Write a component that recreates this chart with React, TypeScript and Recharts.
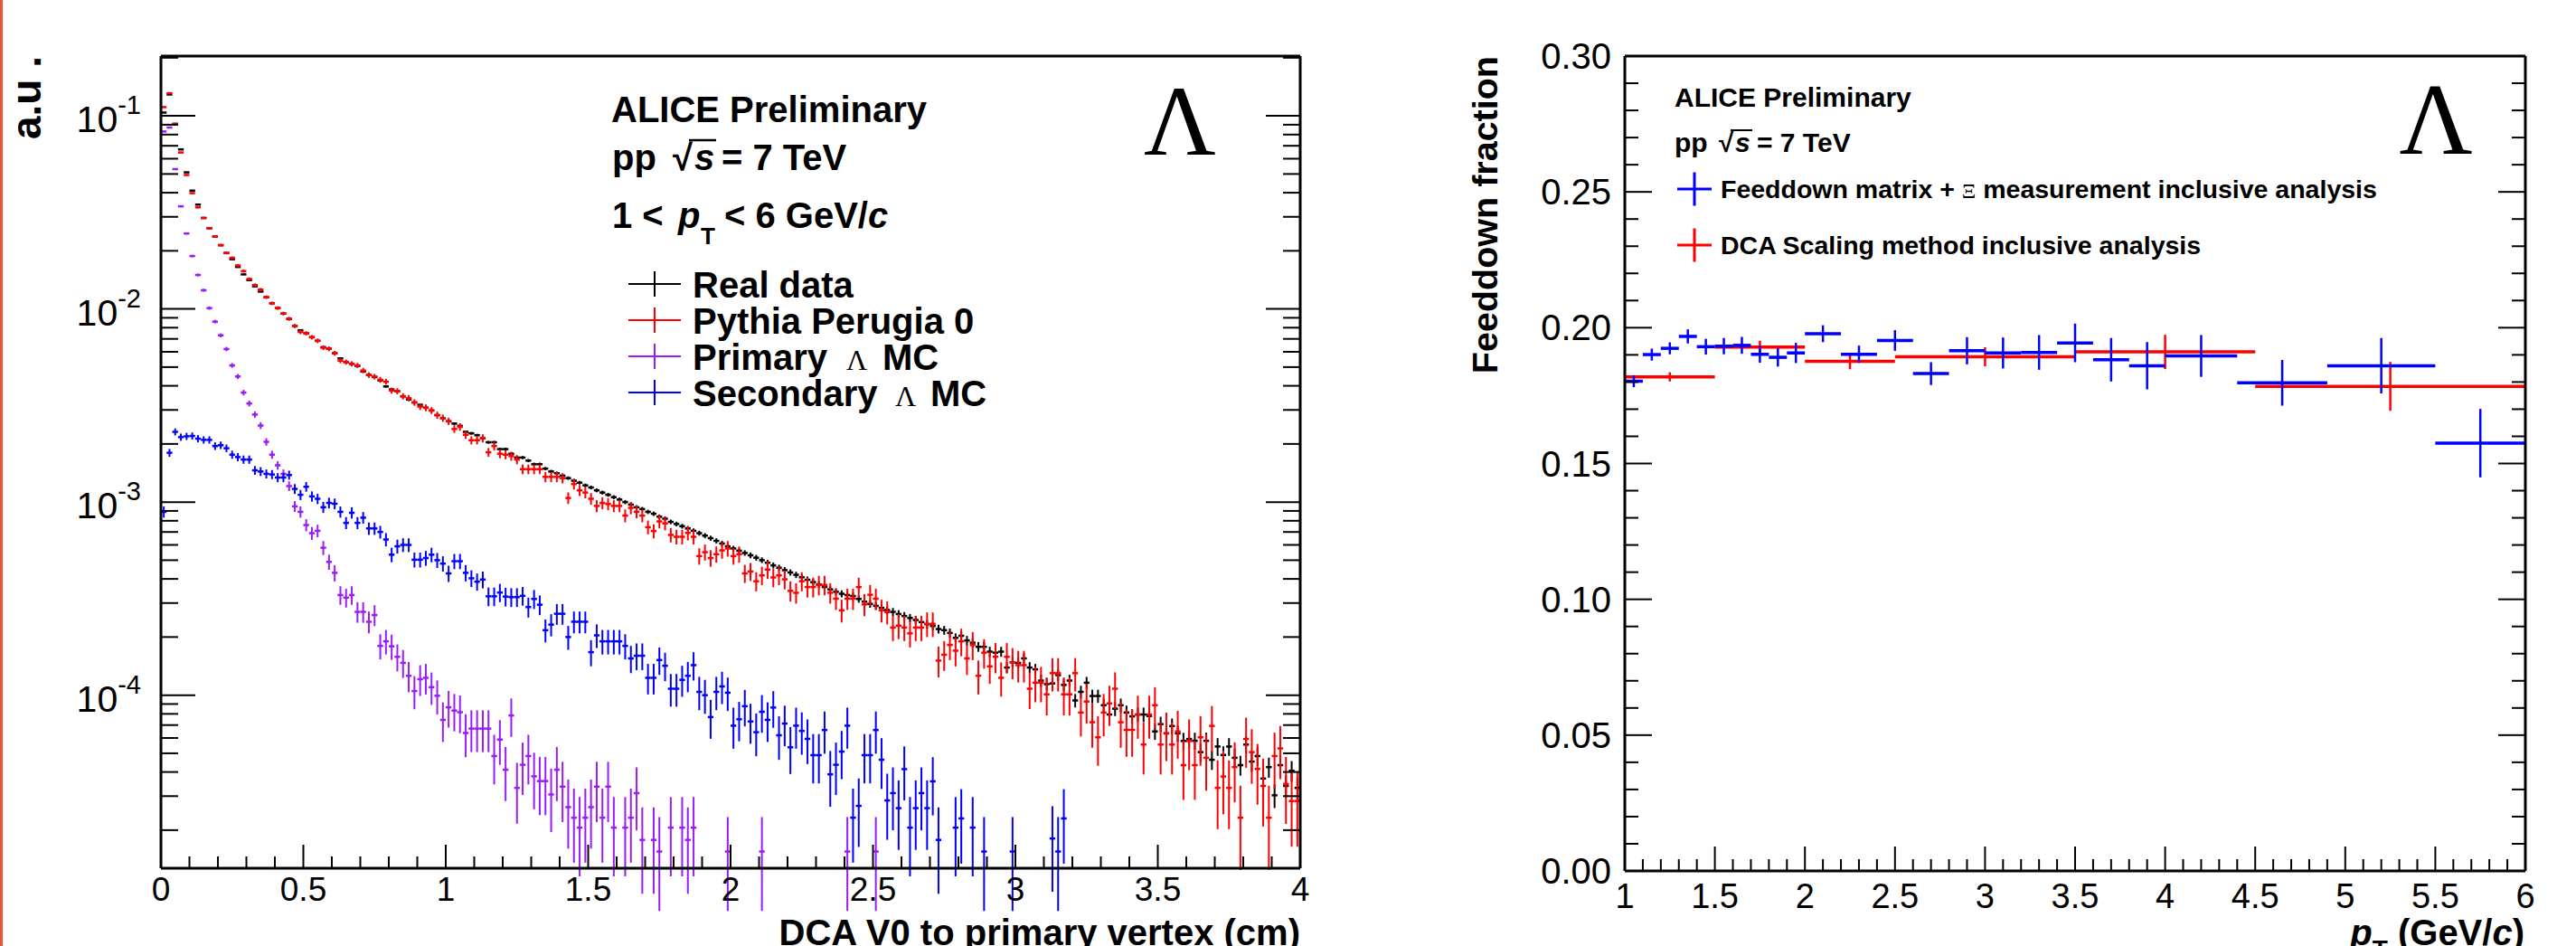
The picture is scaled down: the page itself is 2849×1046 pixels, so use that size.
import React from 'react';
import { ScatterChart, Scatter, XAxis, YAxis, ErrorBar } from 'recharts';

// ---- left panel: DCA distributions, 0.02 cm bins starting at 0 ----
const dcaFirstBinCenter = 0.01;
const dcaBinWidth = 0.02;

const realData = [
  0.104, 0.129, 0.091, 0.067, 0.051, 0.041, 0.0347, 0.0296, 0.0262, 0.0237,
  0.0214, 0.0195, 0.0181, 0.0165, 0.0151, 0.0141, 0.0131, 0.0123, 0.0115, 0.0107,
  0.0101, 0.00946, 0.00887, 0.00816, 0.00776, 0.00748, 0.00714, 0.00684, 0.00634, 0.00622,
  0.0059, 0.00555, 0.00531, 0.0052, 0.00507, 0.00475, 0.00455, 0.00444, 0.00427, 0.00397,
  0.00383, 0.00375, 0.00353, 0.0034, 0.00328, 0.00319, 0.00308, 0.00298, 0.00282, 0.00272,
  0.00262, 0.00255, 0.00248, 0.00231, 0.00227, 0.00222, 0.00214, 0.00204, 0.00204, 0.00188,
  0.00188, 0.00178, 0.0017, 0.0017, 0.00164, 0.00157, 0.00157, 0.00149, 0.00144, 0.00141,
  0.00137, 0.00133, 0.00129, 0.00126, 0.00122, 0.00119, 0.00115, 0.00112, 0.00109, 0.00106,
  0.00103, 0.001, 0.00097, 0.00094, 0.00092, 0.00089, 0.00087, 0.00084, 0.00082, 0.00079,
  0.00077, 0.00075, 0.00073, 0.00071, 0.00069, 0.00067, 0.00065, 0.00063, 0.00061, 0.00059,
  0.000575, 0.00056, 0.000545, 0.00053, 0.000515, 0.0005, 0.000485, 0.00047, 0.000457, 0.000444,
  0.000432, 0.00042, 0.000408, 0.000396, 0.000385, 0.000374, 0.000363, 0.000353, 0.000343, 0.000335,
  0.00033, 0.000326, 0.000315, 0.000305, 0.000297, 0.00029, 0.000283, 0.000276, 0.00027, 0.000263,
  0.000257, 0.000251, 0.000245, 0.000239, 0.000233, 0.000228, 0.00022, 0.000217, 0.00021, 0.000198,
  0.000203, 0.000192, 0.000187, 0.000178, 0.000178, 0.000168, 0.000166, 0.000168, 0.000139, 0.000148,
  0.000147, 0.000155, 0.000139, 0.000136, 0.000119, 0.000114, 0.000115, 0.000127, 0.000113, 0.000119,
  9.39e-5, 1.04e-4, 1.16e-4, 9.9e-5, 9.9e-5, 8.87e-5, 7.94e-5, 8.51e-5, 8.87e-5, 8.13e-5,
  7.77e-5, 7.94e-5, 7.94e-5, 7.8e-5, 6.49e-5, 7.08e-5, 6.34e-5, 6.92e-5, 6.34e-5, 5.79e-5,
  5.93e-5, 5.8e-5, 5.07e-5, 5.8e-5, 4.63e-5, 5.42e-5, 4.9e-5, 5.42e-5, 4.74e-5, 4.34e-5,
  5.55e-5, 4.53e-5, 4.84e-5, 3.7e-5, 4.24e-5, 3.03e-5, 4.34e-5, 3.39e-5, 4.06e-5, 3.31e-5,
];

const pythiaPerugia0 = [
  0.111, 0.131, 0.0907, 0.0646, 0.0494, 0.0398, 0.0336, 0.0296, 0.0262, 0.0237,
  0.0214, 0.0195, 0.0184, 0.0168, 0.0157, 0.0143, 0.0133, 0.0126, 0.0115, 0.0107,
  0.0101, 0.00946, 0.0089, 0.00816, 0.0076, 0.00748, 0.00714, 0.00684, 0.0063, 0.00622,
  0.0059, 0.0054, 0.00531, 0.0052, 0.0051, 0.0048, 0.00455, 0.00446, 0.0043, 0.0042,
  0.00378, 0.00375, 0.00353, 0.00345, 0.00328, 0.00312, 0.00308, 0.00298, 0.00282, 0.00272,
  0.00262, 0.00239, 0.00245, 0.00223, 0.00209, 0.00209, 0.00214, 0.00181, 0.00195, 0.00178,
  0.00176, 0.00173, 0.00166, 0.00148, 0.00148, 0.00148, 0.00148, 0.00135, 0.00135, 0.00135,
  0.00133, 0.00105, 0.00124, 0.00115, 0.00112, 0.00104, 0.000955, 0.000989, 0.000977, 0.000955,
  0.000955, 0.000851, 0.000933, 0.000891, 0.000851, 0.000741, 0.000708, 0.000794, 0.000776, 0.000676,
  0.000661, 0.000661, 0.000692, 0.000661, 0.000525, 0.00055, 0.000513, 0.000537, 0.000562, 0.000575,
  0.000525, 0.000537, 0.000427, 0.000437, 0.000389, 0.000417, 0.000447, 0.000407, 0.000417, 0.000398,
  0.000347, 0.000339, 0.000389, 0.000363, 0.000363, 0.000372, 0.000372, 0.000339, 0.000316, 0.000275,
  0.000316, 0.000316, 0.000363, 0.000295, 0.000331, 0.000316, 0.000275, 0.000269, 0.000224, 0.000229,
  0.000224, 0.000209, 0.000224, 0.000224, 0.000234, 0.000234, 0.000151, 0.000162, 0.000182, 0.00017,
  0.00019, 0.000155, 0.000182, 0.000126, 0.000166, 0.000141, 0.000158, 0.000123, 0.000158, 0.000148,
  0.000143, 0.000143, 0.000108, 0.000116, 0.000116, 0.000101, 0.00013, 0.00013, 0.000101, 0.000101,
  1.3e-4, 8.13e-5, 9.27e-5, 7.24e-5, 6.05e-5, 8.13e-5, 9.06e-5, 1.08e-4, 7.24e-5, 6.61e-5,
  6.61e-5, 7.94e-5, 5.55e-5, 7.94e-5, 8.87e-5, 5.55e-5, 6.34e-5, 5.55e-5, 6.49e-5, 4.34e-5,
  5.79e-5, 4.34e-5, 6.05e-5, 4.74e-5, 6.93e-5, 3.31e-5, 3.79e-5, 3.31e-5, 4.24e-5, 2.32e-5,
  5.93e-5, 5.07e-5, 4.15e-5, 3.39e-5, 2.32e-5, 4.84e-5, 5.3e-5, 3.47e-5, 2.83e-5, 2.83e-5,
];

// empty bins are null; bins after the last entry are empty
const primaryLambdaMC = [
  0.083, 0.087, 0.053, 0.034, 0.0246, 0.0188, 0.015, 0.0125, 0.0101, 0.0086,
  0.0073, 0.0062, 0.0051, 0.00447, 0.00369, 0.00324, 0.00284, 0.00249, 0.00205, 0.00176,
  0.00155, 0.0014, 0.00121, 0.00095, 0.00089, 0.00076, 0.00069, 0.00071, 0.00058, 0.00049,
  0.00043, 0.00033, 0.00032, 0.00033, 0.00027, 0.00027, 0.00024, 0.00026, 0.00018, 0.00019,
  0.000179, 0.000158, 0.000147, 0.000126, 0.000105, 0.000121, 0.000123, 0.00011, 9.93e-5, 7.45e-5,
  8.65e-5, 8.32e-5, 8.16e-5, 6.37e-5, 6.71e-5, 6.71e-5, 6.71e-5, 6.71e-5, 4.84e-5, 5.89e-5,
  4.11e-5, 7.85e-5, 3.31e-5, 4.36e-5, 4.84e-5, 3.8e-5, 3.59e-5, 3.59e-5, 3.06e-5, 4.11e-5,
  3.36e-5, 2.63e-5, 2.32e-5, 2.06e-5, 2.32e-5, 2.63e-5, 3.36e-5, 2.32e-5, 3.36e-5, 2.06e-5,
  null, 2.06e-5, 2.32e-5, 3.11e-5, 1.78e-5, null, 1.78e-5, 1.55e-5, null, 2.06e-5,
  null, 2.06e-5, 1.78e-5, 2.06e-5, null, null, null, null, null, 1.55e-5,
  null, null, null, null, null, 1.55e-5, null, null, null, null,
  null, null, null, null, null, null, null, null, null, null,
  1.55e-5, null, null, null, null, 1.55e-5,
];

const secondaryLambdaMC = [
  0.00089, 0.0018, 0.00231, 0.00217, 0.00219, 0.0022, 0.00213, 0.0021, 0.0021, 0.00195,
  0.00197, 0.0019, 0.00176, 0.00171, 0.00166, 0.00166, 0.00146, 0.00144, 0.0014, 0.00139,
  0.00134, 0.00134, 0.00138, 0.00117, 0.00109, 0.0012, 0.00107, 0.00104, 0.00094, 0.00099,
  0.00098, 0.00089, 0.00078, 0.00088, 0.00078, 0.00083, 0.00073, 0.00073, 0.0007, 0.00064,
  0.000534, 0.00059, 0.0006, 0.0006, 0.000503, 0.000503, 0.000513, 0.000534, 0.0005, 0.00048,
  0.000427, 0.000494, 0.000494, 0.00043, 0.000403, 0.000387, 0.000397, 0.000325, 0.000325, 0.00034,
  0.000324, 0.000322, 0.000322, 0.000327, 0.000286, 0.000315, 0.000294, 0.000217, 0.000232, 0.000264,
  0.000264, 0.0002, 0.00024, 0.00024, 0.00024, 0.000167, 0.000204, 0.00019, 0.00019, 0.00019,
  0.00019, 0.00018, 0.000155, 0.00016, 0.00016, 0.000123, 0.000123, 0.000152, 0.000142, 0.000108,
  0.000108, 0.00012, 0.000126, 0.000143, 0.000104, 0.0001, 7.7e-5, 1.04e-4, 1.11e-4, 1.03e-4,
  6.95e-5, 7.5e-5, 8.77e-5, 7.31e-5, 6.43e-5, 8.2e-5, 7.45e-5, 8.63e-5, 6.2e-5, 7.13e-5,
  5.37e-5, 6.95e-5, 6.53e-5, 5.94e-5, 4.89e-5, 4.89e-5, 6.6e-5, 3.89e-5, 4.36e-5, 5.1e-5,
  6.95e-5, 2.32e-5, 2.67e-5, 4.89e-5, 4.89e-5, 6.6e-5, 4.63e-5, 2.85e-5, 3.11e-5, 2.6e-5,
  4.14e-5, 2.06e-5, 2.6e-5, 3.11e-5, 2.6e-5, 3.58e-5, 1.78e-5, null, null, 2.06e-5,
  2.3e-5, null, 2.06e-5, null, 1.55e-5, null, null, null, null, 1.55e-5,
  null, null, null, null, null, null, 1.81e-5, 1.55e-5, 2.3e-5,
];

// size of one entry, read from the length of the statistical error bars
const realDataEntry = 6e-7;
const pythiaEntry = 5e-6;
const primaryEntry = 4e-6;
const secondaryEntry = 4e-6;

// ---- right panel: feeddown fraction vs pT ----
const matrixPt = [1.05, 1.15, 1.25, 1.35, 1.45, 1.55, 1.65, 1.75, 1.85, 1.95, 2.1, 2.3, 2.5, 2.7, 2.9, 3.1, 3.3, 3.5, 3.7, 3.9, 4.2, 4.65, 5.2, 5.75];
const matrixHalfWidth = [0.05, 0.05, 0.05, 0.05, 0.05, 0.05, 0.05, 0.05, 0.05, 0.05, 0.1, 0.1, 0.1, 0.1, 0.1, 0.1, 0.1, 0.1, 0.1, 0.1, 0.2, 0.25, 0.3, 0.25];
const matrixFraction = [0.1803, 0.1901, 0.1924, 0.1968, 0.193, 0.1932, 0.1935, 0.1902, 0.1891, 0.1907, 0.1978, 0.1902, 0.1953, 0.1831, 0.1915, 0.1907, 0.1909, 0.1944, 0.1882, 0.186, 0.1896, 0.1797, 0.186, 0.1575];
const matrixError = [0.0022, 0.0022, 0.0022, 0.0026, 0.0029, 0.003, 0.0031, 0.0031, 0.0034, 0.0037, 0.0031, 0.0032, 0.0038, 0.0042, 0.005, 0.0057, 0.0064, 0.0071, 0.008, 0.0087, 0.0077, 0.0084, 0.0102, 0.0126];

const scalingPt = [1.25, 1.75, 2.25, 3.0, 4.0, 5.25];
const scalingHalfWidth = [0.25, 0.25, 0.25, 0.5, 0.5, 0.75];
const scalingFraction = [0.1819, 0.1929, 0.1876, 0.1893, 0.1911, 0.1784];
const scalingError = [0.0017, 0.0023, 0.0029, 0.0035, 0.0063, 0.009];

// ---- axes ----
const auMin = 1.27e-5;
const auMax = 0.204;
const auDecades = [1e-5, 1e-4, 1e-3, 1e-2, 1e-1];
const auTicks = auDecades.flatMap((d) => [1, 2, 3, 4, 5, 6, 7, 8, 9].map((m) => m * d)).filter((v) => v >= auMin && v <= auMax);
const dcaTicks = Array.from({ length: 41 }, (_, i) => i / 10);
const ptTicks = Array.from({ length: 51 }, (_, i) => 1 + i / 10);
const fractionTicks = Array.from({ length: 31 }, (_, i) => i / 100);

const SANS = '"Liberation Sans", Arial, Helvetica, sans-serif';
const SERIF = '"Liberation Serif", "Times New Roman", serif';
const BLACK = '#000000';
const RED = '#ff0000';
const VIOLET = '#9a1cf8';
const BLUE = '#0000ff';

const frameLine = { stroke: '#000', strokeWidth: 3 };
const isMultiple = (v: number, step: number) => Math.abs(v / step - Math.round(v / step)) < 1e-6;
const isDecade = (v: number) => Math.abs(Math.log10(v) - Math.round(Math.log10(v))) < 1e-6;
const noMarker = () => <g />;

const histRows = (values: (number | null)[], entry: number) =>
  values.flatMap((v, i) =>
    v == null ? [] : [{ x: dcaFirstBinCenter + i * dcaBinWidth, y: v, ex: dcaBinWidth / 2, ey: Math.sqrt(v * entry) }]
  );
const pointRows = (xs: number[], hw: number[], ys: number[], es: number[]) =>
  xs.map((x, i) => ({ x, y: ys[i], ex: hw[i], ey: es[i] }));

const realRows = histRows(realData, realDataEntry);
const pythiaRows = histRows(pythiaPerugia0, pythiaEntry);
const primaryRows = histRows(primaryLambdaMC, primaryEntry);
const secondaryRows = histRows(secondaryLambdaMC, secondaryEntry);
const matrixRows = pointRows(matrixPt, matrixHalfWidth, matrixFraction, matrixError);
const scalingRows = pointRows(scalingPt, scalingHalfWidth, scalingFraction, scalingError);

// ---- tick renderers (ticks point into the frame, ROOT style) ----
const tickStroke = { stroke: '#000', strokeWidth: 2 };

const DcaBottomTick = ({ x, y, payload }: any) => {
  const major = isMultiple(payload.value, 0.5);
  return (
    <g>
      <line x1={x} x2={x} y1={y} y2={y - (major ? 26 : 13)} {...tickStroke} />
      {major && (
        <text x={x} y={996} textAnchor="middle" fontFamily={SANS} fontSize={37}>
          {String(Number(payload.value.toFixed(1)))}
        </text>
      )}
    </g>
  );
};
const DcaTopTick = ({ x, y, payload }: any) => {
  const major = isMultiple(payload.value, 0.5);
  return <line x1={x} x2={x} y1={y} y2={y + (major ? 26 : 13)} {...tickStroke} />;
};
const AuLeftTick = ({ x, y, payload }: any) => {
  const major = isDecade(payload.value);
  return (
    <g>
      <line x1={x} x2={x + (major ? 38 : 19)} y1={y} y2={y} {...tickStroke} />
      {major && (
        <text x={x - 22} y={y + 18} textAnchor="end" fontFamily={SANS}>
          <tspan fontSize={41}>10</tspan>
          <tspan fontSize={29} dy={-20}>{String(Math.round(Math.log10(payload.value)))}</tspan>
        </text>
      )}
    </g>
  );
};
const AuRightTick = ({ x, y, payload }: any) => {
  const major = isDecade(payload.value);
  return <line x1={x} x2={x - (major ? 38 : 19)} y1={y} y2={y} {...tickStroke} />;
};
const PtBottomTick = ({ x, y, payload }: any) => {
  const major = isMultiple(payload.value, 0.5);
  return (
    <g>
      <line x1={x} x2={x} y1={y} y2={y - (major ? 27 : 13)} {...tickStroke} />
      {major && (
        <text x={x} y={1004} textAnchor="middle" fontFamily={SANS} fontSize={38}>
          {String(Number(payload.value.toFixed(1)))}
        </text>
      )}
    </g>
  );
};
const PtTopTick = ({ x, y, payload }: any) => {
  const major = isMultiple(payload.value, 0.5);
  return <line x1={x} x2={x} y1={y} y2={y + (major ? 27 : 13)} {...tickStroke} />;
};
const FractionLeftTick = ({ x, y, payload }: any) => {
  const major = isMultiple(payload.value, 0.05);
  return (
    <g>
      <line x1={x} x2={x + (major ? 30 : 15)} y1={y} y2={y} {...tickStroke} />
      {major && (
        <text x={x - 15} y={y + 14} textAnchor="end" fontFamily={SANS} fontSize={40}>
          {payload.value.toFixed(2)}
        </text>
      )}
    </g>
  );
};
const FractionRightTick = ({ x, y, payload }: any) => {
  const major = isMultiple(payload.value, 0.05);
  return <line x1={x} x2={x - (major ? 30 : 15)} y1={y} y2={y} {...tickStroke} />;
};

const axisCommon = { type: 'number' as const, allowDataOverflow: true, interval: 0 as const, tickSize: 0, tickMargin: 0, tickLine: false, axisLine: frameLine };

function histSeries(rows: any[], color: string, name: string) {
  return (
    <Scatter name={name} xAxisId="b" yAxisId="l" data={rows} shape={noMarker} fill={color} isAnimationActive={false}>
      <ErrorBar dataKey="ex" direction="x" width={0} stroke={color} strokeWidth={2.5} isAnimationActive={false} />
      <ErrorBar dataKey="ey" direction="y" width={0} stroke={color} strokeWidth={2} isAnimationActive={false} />
    </Scatter>
  );
}
function fractionSeries(rows: any[], color: string, name: string) {
  return (
    <Scatter name={name} xAxisId="b" yAxisId="l" data={rows} shape={noMarker} fill={color} isAnimationActive={false}>
      <ErrorBar dataKey="ex" direction="x" width={0} stroke={color} strokeWidth={3.5} isAnimationActive={false} />
      <ErrorBar dataKey="ey" direction="y" width={0} stroke={color} strokeWidth={2.5} isAnimationActive={false} />
    </Scatter>
  );
}

function LegendCross({ cx, cy, half, halfV, color, w }: any) {
  return (
    <g stroke={color} strokeWidth={w}>
      <line x1={cx - half} x2={cx + half} y1={cy} y2={cy} />
      <line x1={cx} x2={cx} y1={cy - halfV} y2={cy + halfV} />
    </g>
  );
}

function Annotations() {
  const bold = { fontFamily: SANS, fontWeight: 700 as const, fill: '#000' };
  const leftRows = [
    { y: 314, color: BLACK, label: 'Real data' },
    { y: 354, color: RED, label: 'Pythia Perugia 0' },
  ];
  return (
    <svg width={2849} height={1046} style={{ position: 'absolute', left: 0, top: 0, pointerEvents: 'none' }}>
      {/* left panel */}
      <text {...bold} fontSize={46} textAnchor="end" transform="translate(45,62) rotate(-90)">a.u .</text>
      <text {...bold} fontSize={40} x={1438} y={1045} textAnchor="end">DCA V0 to primary vertex (cm)</text>
      <text {...bold} fontSize={40} x={676} y={135}>ALICE Preliminary</text>
      <text {...bold} fontSize={40} x={677} y={188}>
        pp<tspan x={744}>√</tspan>
        <tspan x={768} fontStyle="italic">s</tspan>
        <tspan x={798}>= 7 TeV</tspan>
      </text>
      <line x1={762} x2={792} y1={155} y2={155} stroke="#000" strokeWidth={2.5} />
      <text {...bold} fontSize={40} x={677} y={252}>
        1 &lt;<tspan x={750} fontStyle="italic">p</tspan>
        <tspan x={775} y={270} fontSize={26}>T</tspan>
        <tspan x={801} y={252}>&lt; 6 GeV/</tspan>
        <tspan fontStyle="italic">c</tspan>
      </text>
      <text x={1305} y={171} textAnchor="middle" fontFamily={SERIF} fontSize={110} fill="#000">Λ</text>
      {leftRows.map((r) => (
        <g key={r.label}>
          <LegendCross cx={724} cy={r.y} half={29} halfV={14} color={r.color} w={2} />
          <text {...bold} fontSize={40} x={766} y={r.y + 14.5}>{r.label}</text>
        </g>
      ))}
      <LegendCross cx={724} cy={394} half={29} halfV={14} color={VIOLET} w={2} />
      <text {...bold} fontSize={40} x={766} y={408.5}>
        Primary<tspan x={936} fontFamily={SERIF} fontWeight={400} fontSize={32}>Λ</tspan>
        <tspan x={976}>MC</tspan>
      </text>
      <LegendCross cx={724} cy={434} half={29} halfV={14} color={BLUE} w={2} />
      <text {...bold} fontSize={40} x={766} y={448.5}>
        Secondary<tspan x={990} fontFamily={SERIF} fontWeight={400} fontSize={32}>Λ</tspan>
        <tspan x={1029}>MC</tspan>
      </text>

      {/* right panel */}
      <text {...bold} fontSize={39.5} textAnchor="end" transform="translate(1656,62) rotate(-90)">Feeddown fraction</text>
      <text {...bold} fontSize={40} x={2792} y={1045} textAnchor="end">
        <tspan fontStyle="italic">p</tspan>
        <tspan fontSize={28} dy={14}>T</tspan>
        <tspan dy={-14}> (GeV/</tspan>
        <tspan fontStyle="italic">c</tspan>
        <tspan>)</tspan>
      </text>
      <text {...bold} fontSize={30} x={1852} y={118}>ALICE Preliminary</text>
      <text {...bold} fontSize={30} x={1852} y={168}>
        pp<tspan x={1901}>√</tspan>
        <tspan x={1919} fontStyle="italic">s</tspan>
        <tspan x={1943}>= 7 TeV</tspan>
      </text>
      <line x1={1914} x2={1938} y1={144} y2={144} stroke="#000" strokeWidth={2} />
      <text x={2694} y={170} textAnchor="middle" fontFamily={SERIF} fontSize={112} fill="#000">Λ</text>
      <LegendCross cx={1874} cy={209} half={19} halfV={18.5} color={BLUE} w={3} />
      <text {...bold} fontSize={28.5} x={1903} y={219}>
        Feeddown matrix +{' '}
        <tspan fontFamily={SERIF} fontWeight={400} fontSize={24}>Ξ</tspan> measurement inclusive analysis
      </text>
      <LegendCross cx={1874} cy={271} half={19} halfV={18.5} color={RED} w={3} />
      <text {...bold} fontSize={28.5} x={1903} y={281}>DCA Scaling method inclusive analysis</text>
    </svg>
  );
}

export default function App() {
  return (
    <div style={{ position: 'absolute', left: 0, top: 0, width: 2849, height: 1046, background: '#fff', overflow: 'hidden' }}>
      <div style={{ position: 'absolute', left: 0, top: 0, width: 3, height: 1046, background: '#ef5533' }} />

      <div style={{ position: 'absolute', left: 0, top: 0 }}>
        <ScatterChart width={1500} height={1046} margin={{ top: 0, right: 0, bottom: 0, left: 0 }}>
          <XAxis {...axisCommon} xAxisId="b" dataKey="x" orientation="bottom" height={86} domain={[0, 4]} ticks={dcaTicks} tick={DcaBottomTick} />
          <XAxis {...axisCommon} xAxisId="t" orientation="top" height={62} domain={[0, 4]} ticks={dcaTicks} tick={DcaTopTick} />
          <YAxis {...axisCommon} yAxisId="l" dataKey="y" orientation="left" width={178} scale="log" domain={[auMin, auMax]} ticks={auTicks} tick={AuLeftTick} />
          <YAxis {...axisCommon} yAxisId="r" orientation="right" width={62} scale="log" domain={[auMin, auMax]} ticks={auTicks} tick={AuRightTick} />
          {histSeries(realRows, BLACK, 'Real data')}
          {histSeries(pythiaRows, RED, 'Pythia Perugia 0')}
          {histSeries(primaryRows, VIOLET, 'Primary Λ MC')}
          {histSeries(secondaryRows, BLUE, 'Secondary Λ MC')}
        </ScatterChart>
      </div>

      <div style={{ position: 'absolute', left: 1560, top: 0 }}>
        <ScatterChart width={1289} height={1046} margin={{ top: 0, right: 0, bottom: 0, left: 0 }}>
          <XAxis {...axisCommon} xAxisId="b" dataKey="x" orientation="bottom" height={83} domain={[1, 6]} ticks={ptTicks} tick={PtBottomTick} />
          <XAxis {...axisCommon} xAxisId="t" orientation="top" height={62} domain={[1, 6]} ticks={ptTicks} tick={PtTopTick} />
          <YAxis {...axisCommon} yAxisId="l" dataKey="y" orientation="left" width={237} domain={[0, 0.3]} ticks={fractionTicks} tick={FractionLeftTick} />
          <YAxis {...axisCommon} yAxisId="r" orientation="right" width={56} domain={[0, 0.3]} ticks={fractionTicks} tick={FractionRightTick} />
          {fractionSeries(scalingRows, RED, 'DCA Scaling method inclusive analysis')}
          {fractionSeries(matrixRows, BLUE, 'Feeddown matrix + Ξ measurement inclusive analysis')}
        </ScatterChart>
      </div>

      <Annotations />
    </div>
  );
}
